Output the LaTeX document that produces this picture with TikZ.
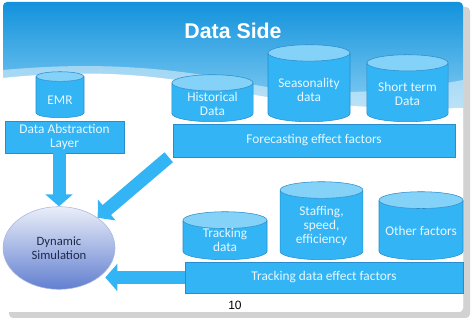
\documentclass[tikz,border=0pt]{standalone}
\usepackage{fontspec}
\setmainfont{Carlito}
\newfontfamily\arialfont{Liberation Sans}
\usetikzlibrary{arrows.meta,positioning,shapes.geometric}

\definecolor{boxblue}{RGB}{51,181,245}
\definecolor{boxedge}{RGB}{40,140,205}
\definecolor{endblue}{RGB}{132,210,248}
\definecolor{boxtext}{RGB}{232,247,255}
\definecolor{headtop}{RGB}{18,146,220}
\definecolor{headbot}{RGB}{150,214,246}
\definecolor{simtop}{RGB}{234,238,249}
\definecolor{simbot}{RGB}{98,128,208}
\definecolor{simedge}{RGB}{168,182,224}
\definecolor{simtext}{RGB}{30,42,74}

\begin{document}
\begin{tikzpicture}[
  x=0.75pt, y=-0.75pt,
  db/.style={
    cylinder,
    shape border rotate=90,
    aspect=0.2,
    draw=boxedge,
    cylinder uses custom fill,
    cylinder body fill=boxblue,
    cylinder end fill=endblue,
    inner ysep=0pt,
    inner xsep=#1,
    anchor=south
  },
  dbtext/.style={align=center, text=boxtext, font=\fontsize{10}{10.5}\selectfont},
  layer/.style={
    rectangle,
    draw=boxedge,
    fill=boxblue,
    inner sep=0pt,
    align=center,
    text=boxtext,
    font=\fontsize{10}{10}\selectfont
  },
  fatarrow/.style={draw=boxblue, line width=9.75pt, -{Triangle[length=9pt, width=20pt]}}
]

% slide background
\useasboundingbox (0,0) rectangle (472,323);
\fill[gray!35, rounded corners=3pt] (9,7) rectangle (470,318);
\fill[white, rounded corners=3pt] (3,2) rectangle (463,312);
\begin{scope}
  \clip[rounded corners=3pt] (3,2) rectangle (463,312);
  \shade[top color=headtop, bottom color=headbot] (3,2) rectangle (463,125);
  \fill[white, opacity=0.45] (3,70) .. controls (90,62) and (170,66) .. (250,84)
    .. controls (320,98) and (400,92) .. (463,80) -- (463,125) -- (3,125) -- cycle;
  \fill[white] (3,78) .. controls (80,70) and (150,72) .. (230,90)
    .. controls (300,106) and (400,110) .. (463,108) -- (463,312) -- (3,312) -- cycle;
\end{scope}

\node[font=\arialfont\bfseries\fontsize{16}{19}\selectfont, text=white] (title) at (233,31) {Data Side};

% data sources
\node[db=18pt, minimum height=34.5pt] (emr) at (60,118) {};
\node[dbtext] at ([yshift=13.5pt]emr.south) {EMR};
\node[layer, minimum width=89.25pt, minimum height=24pt] (dal) at (64.5,137) {Data Abstraction\\Layer};

\node[db=30.4pt, minimum height=35.25pt] (hist) at (212.5,122) {};
\node[dbtext] at ([yshift=13.9pt]hist.south) {Historical\\Data};
\node[db=30.75pt, minimum height=57.75pt] (season) at (309,122) {};
\node[dbtext] at ([yshift=24pt]season.south) {Seasonality\\data};
\node[db=30.4pt, minimum height=50.25pt] (short) at (407.5,122) {};
\node[dbtext] at ([yshift=21pt]short.south) {Short term\\Data};
\node[layer, minimum width=211.5pt, minimum height=24.75pt] (fore) at (314,140.5) {Forecasting effect factors};

\node[db=31.5pt, minimum height=36pt] (track) at (225,260) {};
\node[dbtext] at ([yshift=15pt]track.south) {Tracking\\data};
\node[db=31.1pt, minimum height=58.5pt] (staff) at (321.5,260) {};
\node[dbtext] at ([yshift=25.5pt]staff.south) {Staffing,\\speed,\\efficiency};
\node[db=31.5pt, minimum height=51pt] (other) at (421,260) {};
\node[dbtext] at ([yshift=21.75pt]other.south) {Other factors};
\node[layer, minimum width=208.5pt, minimum height=23.25pt] (trackfx) at (324,277.5) {Tracking data effect factors};

% simulation
\node[ellipse, draw=simedge, top color=simtop, bottom color=simbot, minimum width=84pt, minimum height=62pt,
  align=center, text=simtext, font=\fontsize{9.5}{10.5}\selectfont] (sim) at (59,248) {Dynamic\\Simulation};

\node[font=\arialfont\fontsize{9}{11}\selectfont] (page) at (235,305) {10};

% arrows
\draw[fatarrow] (dal.south -| sim.north) -- (sim.north);
\draw[fatarrow] ([xshift=-3pt]fore.south west) -- (sim.38);
\draw[fatarrow] (trackfx.west) -- ([xshift=-7.5pt]trackfx.west -| sim.east);

\end{tikzpicture}
\end{document}
